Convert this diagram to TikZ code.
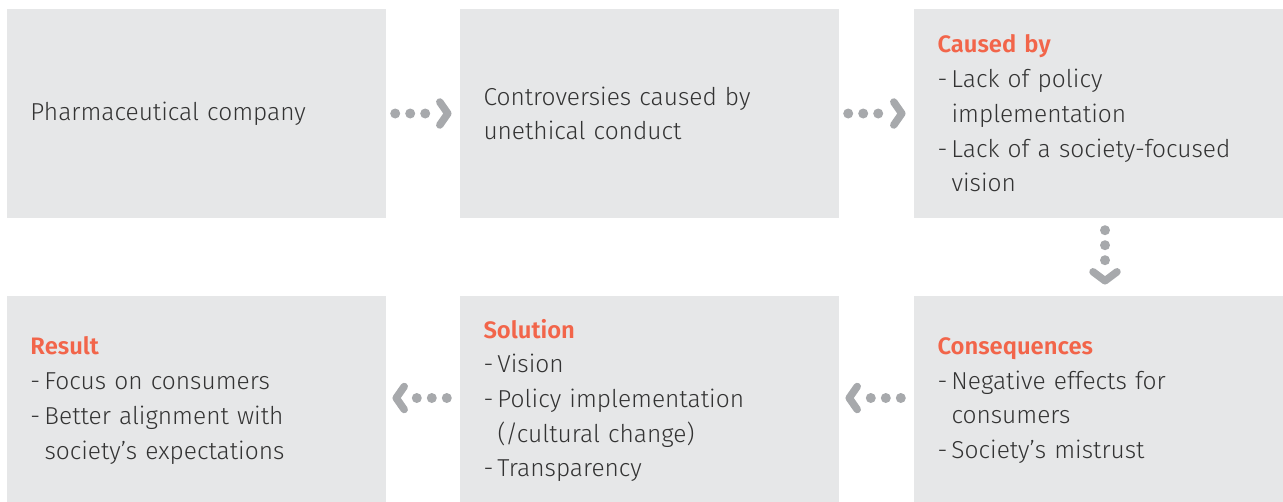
\documentclass[tikz,border=0pt]{standalone}
\usepackage{fontspec}
\setmainfont{Fira Sans Light}[BoldFont={Fira Sans SemiBold}]
\usetikzlibrary{calc}
\definecolor{boxgray}{HTML}{E6E7E8}
\definecolor{txt}{HTML}{333333}
\definecolor{head}{HTML}{F2654A}
\definecolor{arrowgray}{HTML}{A7A9AC}
\newcommand{\hd}[1]{{\fontsize{23.8}{34.7}\selectfont\textcolor{head}{\textbf{#1}}}}
\newcommand{\ind}{\hspace*{14pt}}
\newcommand{\dsh}{\makebox[14pt][l]{-}}
\begin{document}
\begin{tikzpicture}[x=1pt,y=-1pt,
  box/.style={fill=boxgray, draw=none, minimum width=379pt, minimum height=209pt,
    inner xsep=23.5pt, inner ysep=0pt, text width=332pt, align=left,
    font=\fontsize{24.5}{34.7}\selectfont, text=txt},
  dotline/.style={draw=arrowgray, line width=10pt, line cap=round, dash pattern=on 0pt off 15pt},
  chev/.style={draw=arrowgray, line width=7.5pt, line cap=round, line join=round}]
\useasboundingbox (0,0) rectangle (1283,501);
\node[box] (b1) at (196.5,113.5) {Pharmaceutical company};
\node[box] (b2) at (649.5,113.5) {Controversies caused by\\unethical conduct};
\node[box] (b3) at (1103.5,113.5) {\hd{Caused by}\\\dsh Lack of policy\\\ind implementation\\\dsh Lack of a society-focused\\\ind vision};
\node[box] (b4) at (1103.5,400.5) {\hd{Consequences}\\\dsh Negative effects for\\\ind consumers\\\dsh Society’s mistrust};
\node[box] (b5) at (649.5,400.5) {\hd{Solution}\\\dsh Vision\\\dsh Policy implementation\\\ind (/cultural change)\\\dsh Transparency};
\node[box] (b6) at (196.5,400.5) {\hd{Result}\\\dsh Focus on consumers\\\dsh Better alignment with\\\ind society’s expectations};
% b1 -> b2
\draw[dotline] ([xshift=9pt]b1.east) -- ([xshift=-34.5pt]b2.west);
\draw[chev] ([shift={(-20pt,11.5pt)}]b2.west) -- ([xshift=-12pt]b2.west) -- ([shift={(-20pt,-11.5pt)}]b2.west);
% b2 -> b3
\draw[dotline] ([xshift=9pt]b2.east) -- ([xshift=-34.5pt]b3.west);
\draw[chev] ([shift={(-20pt,11.5pt)}]b3.west) -- ([xshift=-12pt]b3.west) -- ([shift={(-20pt,-11.5pt)}]b3.west);
% b3 -> b4
\draw[dotline] ([shift={(1.5pt,-12pt)}]b3.south) -- ([shift={(1.5pt,-42.5pt)}]b3.south);
\draw[chev] ([shift={(-10.5pt,24pt)}]b4.north) -- ([shift={(1.5pt,15pt)}]b4.north) -- ([shift={(13.5pt,24pt)}]b4.north);
% b4 -> b5
\draw[dotline] ([shift={(-13pt,2.5pt)}]b4.west) -- ([shift={(-43.5pt,2.5pt)}]b4.west);
\draw[chev] ([shift={(18pt,14pt)}]b5.east) -- ([shift={(10pt,2.5pt)}]b5.east) -- ([shift={(18pt,-9pt)}]b5.east);
% b5 -> b6
\draw[dotline] ([shift={(-13pt,2.5pt)}]b5.west) -- ([shift={(-43.5pt,2.5pt)}]b5.west);
\draw[chev] ([shift={(18pt,14pt)}]b6.east) -- ([shift={(10pt,2.5pt)}]b6.east) -- ([shift={(18pt,-9pt)}]b6.east);
\end{tikzpicture}
\end{document}
